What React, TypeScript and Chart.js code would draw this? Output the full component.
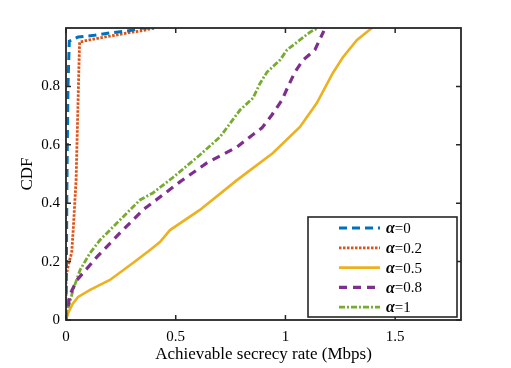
import { useEffect, useRef } from 'react';
import { Chart, registerables } from 'chart.js';
Chart.register(...registerables);

const FONT = '"Liberation Serif", "Times New Roman", serif';
const AXIS_COLOR = '#262626';

const alphaLabels = ['0', '0.2', '0.5', '0.8', '1'];
const colors = ['#0072BD', '#D95319', '#EDB120', '#7E2F8E', '#77AC30'];

const a0X = [0, 0.002, 0.004, 0.006, 0.009, 0.015, 0.055, 0.13, 0.2, 0.28, 0.35, 0.4];
const a0Y = [0, 0.2, 0.45, 0.6, 0.8, 0.955, 0.969, 0.975, 0.983, 0.99, 1.0, 1.0];

const a02X = [0, 0.0, 0.011, 0.026, 0.033, 0.046, 0.05, 0.055, 0.06, 0.062, 0.1, 0.155, 0.2, 0.278, 0.34, 0.405];
const a02Y = [0, 0.147, 0.19, 0.23, 0.31, 0.48, 0.6, 0.75, 0.9, 0.952, 0.958, 0.966, 0.972, 0.983, 0.99, 1.0];

const a05X = [0, 0.01, 0.03, 0.055, 0.11, 0.2, 0.305, 0.383, 0.428, 0.474, 0.61, 0.779, 0.943, 1.066, 1.143, 1.216, 1.262, 1.326, 1.394];
const a05Y = [0, 0.024, 0.055, 0.079, 0.103, 0.137, 0.195, 0.24, 0.267, 0.308, 0.377, 0.479, 0.572, 0.661, 0.743, 0.846, 0.9, 0.959, 1.0];

const a08X = [0, 0.005, 0.02, 0.05, 0.141, 0.246, 0.351, 0.519, 0.642, 0.779, 0.838, 0.893, 0.938, 0.984, 1.011, 1.043, 1.08, 1.134, 1.175];
const a08Y = [0, 0.034, 0.09, 0.137, 0.216, 0.298, 0.377, 0.473, 0.538, 0.592, 0.627, 0.658, 0.702, 0.753, 0.798, 0.849, 0.89, 0.925, 0.99];

const a1X = [0, 0.005, 0.032, 0.064, 0.109, 0.155, 0.232, 0.305, 0.337, 0.396, 0.487, 0.61, 0.702, 0.793, 0.852, 0.884, 0.916, 0.975, 1.007, 1.066, 1.112, 1.148];
const a1Y = [0, 0.024, 0.103, 0.171, 0.229, 0.274, 0.332, 0.387, 0.411, 0.435, 0.488, 0.565, 0.627, 0.719, 0.76, 0.81, 0.849, 0.89, 0.925, 0.959, 0.986, 1.0];

const xTicks = [0, 0.5, 1, 1.5];
const yTicks = [0, 0.2, 0.4, 0.6, 0.8];

const dashes: number[][] = [[8, 5], [2.5, 1.5], [], [8, 6], [6, 2, 2, 2]];
const widths = [3, 2.8, 2.6, 3.2, 2.8];

const seriesX = [a0X, a02X, a05X, a08X, a1X];
const seriesY = [a0Y, a02Y, a05Y, a08Y, a1Y];

const framePlugin = {
  id: 'frame',
  afterDatasetsDraw(chart: any) {
    const { ctx, chartArea, scales } = chart;
    const { left, right, top, bottom } = chartArea;
    const x = scales.x;
    const y = scales.y;
    ctx.save();
    ctx.strokeStyle = AXIS_COLOR;
    ctx.lineWidth = 1.8;
    ctx.setLineDash([]);
    ctx.strokeRect(left, top, right - left, bottom - top);
    const tl = 5;
    ctx.lineWidth = 1.5;
    ctx.beginPath();
    xTicks.forEach((v) => {
      const px = x.getPixelForValue(v);
      ctx.moveTo(px, bottom);
      ctx.lineTo(px, bottom - tl);
      ctx.moveTo(px, top);
      ctx.lineTo(px, top + tl);
    });
    yTicks.forEach((v) => {
      const py = y.getPixelForValue(v);
      ctx.moveTo(left, py);
      ctx.lineTo(left + tl, py);
      ctx.moveTo(right, py);
      ctx.lineTo(right - tl, py);
    });
    ctx.stroke();

    // legend
    const lw = 149;
    const lh = 100;
    const lx = right - 4 - lw;
    const ly = bottom - 3 - lh;
    ctx.fillStyle = '#ffffff';
    ctx.fillRect(lx, ly, lw, lh);
    ctx.lineWidth = 1.6;
    ctx.strokeStyle = AXIS_COLOR;
    ctx.strokeRect(lx, ly, lw, lh);
    alphaLabels.forEach((lab, i) => {
      const yy = ly + 11 + i * 19.8;
      ctx.beginPath();
      ctx.strokeStyle = colors[i];
      ctx.lineWidth = widths[i];
      ctx.setLineDash(dashes[i]);
      ctx.moveTo(lx + 31, yy);
      ctx.lineTo(lx + 72, yy);
      ctx.stroke();
      ctx.setLineDash([]);
      ctx.fillStyle = '#000000';
      ctx.textBaseline = 'middle';
      ctx.textAlign = 'left';
      ctx.font = `bold italic 16px ${FONT}`;
      const ax = lx + 78;
      ctx.fillText('α', ax, yy + 1);
      const aw = ctx.measureText('α').width;
      ctx.font = `15px ${FONT}`;
      ctx.fillText('=' + lab, ax + aw, yy + 1);
    });

    // axis titles
    ctx.fillStyle = '#000000';
    ctx.font = `17px ${FONT}`;
    ctx.textAlign = 'center';
    ctx.textBaseline = 'middle';
    ctx.fillText('Achievable secrecy rate (Mbps)', (left + right) / 2, 355);
    ctx.save();
    ctx.translate(28, (top + bottom) / 2);
    ctx.rotate(-Math.PI / 2);
    ctx.fillText('CDF', 0, 0);
    ctx.restore();
    ctx.restore();
  },
};

export default function App() {
  const ref = useRef<HTMLCanvasElement | null>(null);
  useEffect(() => {
    if (!ref.current) return;
    const datasets = seriesX.map((xs, i) => ({
      label: 'α=' + alphaLabels[i],
      data: xs.map((v, j) => ({ x: v, y: seriesY[i][j] })),
      borderColor: colors[i],
      backgroundColor: colors[i],
      borderWidth: widths[i],
      borderDash: dashes[i],
      pointRadius: 0,
      fill: false,
      tension: 0,
      showLine: true,
    }));
    const chart = new Chart(ref.current, {
      type: 'scatter',
      data: { datasets },
      options: {
        animation: false,
        responsive: false,
        maintainAspectRatio: false,
        layout: { padding: { left: 0, right: 50, top: 28, bottom: 0 } },
        plugins: { legend: { display: false }, tooltip: { enabled: false } },
        scales: {
          x: {
            type: 'linear',
            min: 0,
            max: 1.8,
            grid: { display: false, drawTicks: false },
            border: { display: false },
            afterBuildTicks: (s: any) => {
              s.ticks = xTicks.map((v) => ({ value: v }));
            },
            afterFit: (s: any) => {
              s.height = 48;
            },
            ticks: {
              padding: 8,
              color: '#000',
              font: { family: FONT, size: 15 },
              maxRotation: 0,
              callback: (v: any) => String(v),
            },
          },
          y: {
            type: 'linear',
            min: 0,
            max: 1,
            grid: { display: false, drawTicks: false },
            border: { display: false },
            afterBuildTicks: (s: any) => {
              s.ticks = yTicks.map((v) => ({ value: v }));
            },
            afterFit: (s: any) => {
              s.width = 66;
            },
            ticks: {
              padding: 6,
              color: '#000',
              font: { family: FONT, size: 15 },
              callback: (v: any) => String(v),
            },
          },
        },
      },
      plugins: [framePlugin],
    });
    return () => chart.destroy();
  }, []);
  return (
    <div style={{ position: 'fixed', left: 0, top: 0, width: 511, height: 368, background: '#fff' }}>
      <canvas ref={ref} width={511} height={368} style={{ width: 511, height: 368 }} />
    </div>
  );
}
